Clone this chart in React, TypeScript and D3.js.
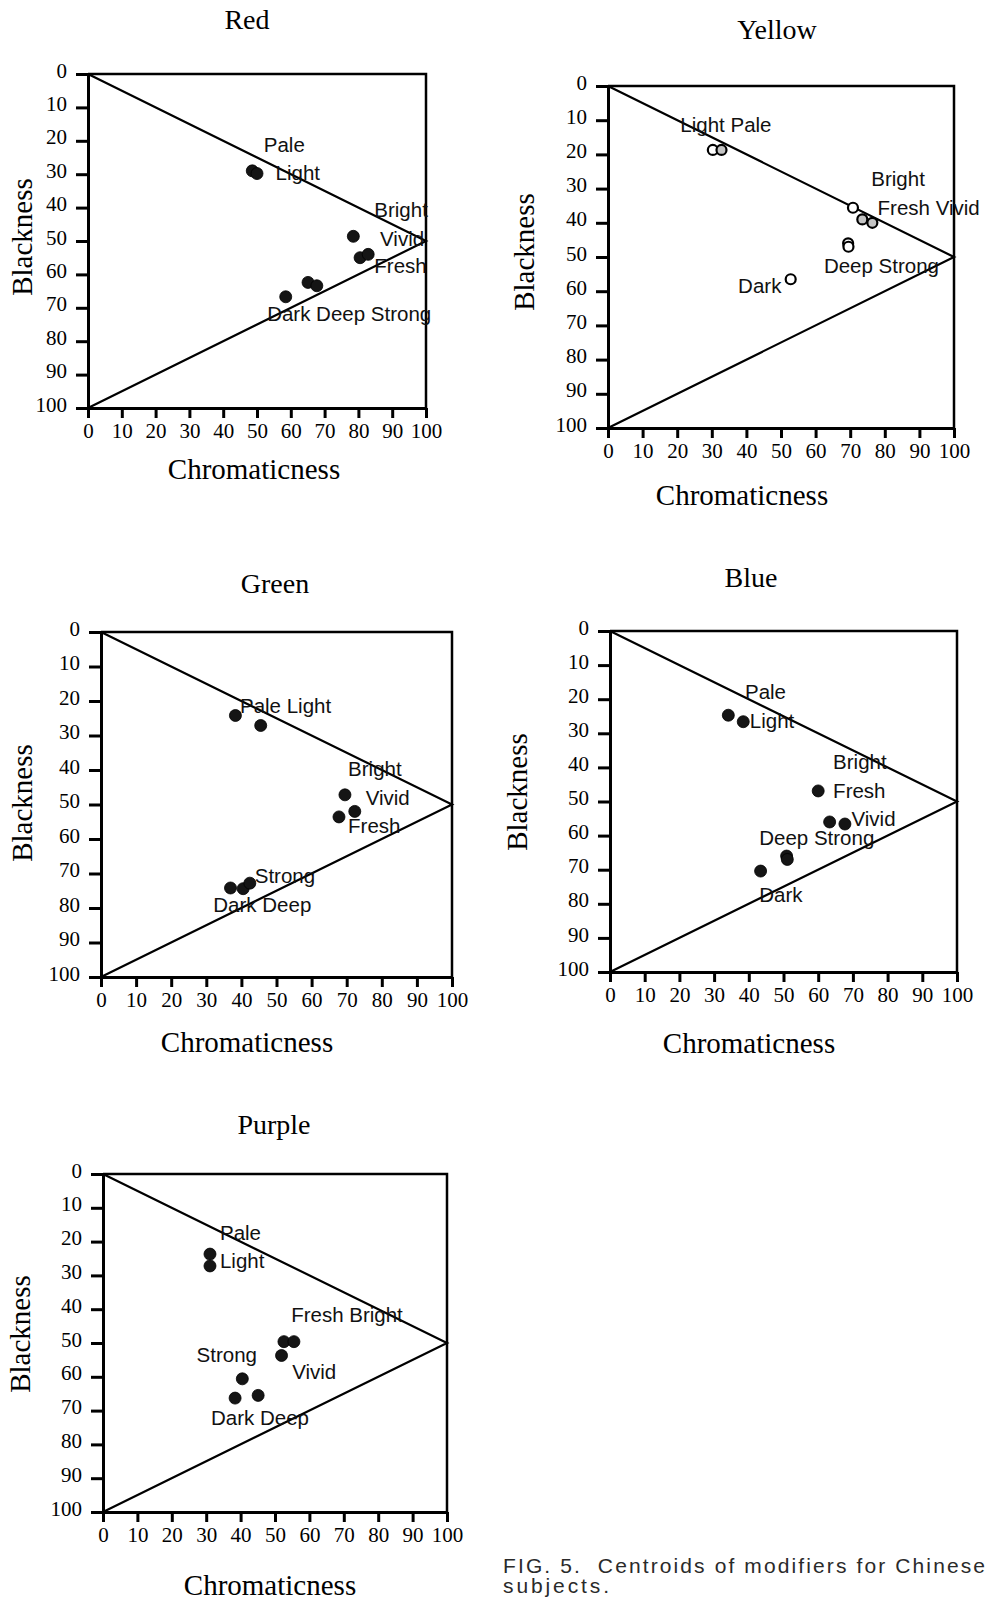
import React, { useEffect, useRef } from 'react';
import * as d3 from 'd3';

const SERIF = '"Liberation Serif", "Times New Roman", serif';
const SANS = '"Liberation Sans", Arial, sans-serif';

// shared axis ticks and the NCS-like triangle (chromaticness, blackness)
const tickValues = [0, 10, 20, 30, 40, 50, 60, 70, 80, 90, 100];
const triangleC = [0, 100, 0];
const triangleS = [0, 50, 100];

// Red
const redModifiers = ['Pale', 'Light', 'Bright', 'Vivid', 'Fresh', 'Dark', 'Deep', 'Strong'];
const redChroma = [48.6, 50.0, 78.5, 80.5, 82.9, 58.5, 65.1, 67.7];
const redBlack = [29.0, 29.8, 48.6, 55.0, 54.0, 66.7, 62.4, 63.4];
const redLabels = ['Pale', 'Light', 'Bright', 'Vivid', 'Fresh', 'Dark Deep Strong'];
const redLabelC = [52.0, 55.5, 84.7, 86.4, 84.7, 53.0];
const redLabelS = [23.3, 31.8, 42.9, 51.4, 59.6, 74.1];

// Yellow
const yellowModifiers = ['Light', 'Pale', 'Bright', 'Fresh', 'Vivid', 'Deep', 'Strong', 'Dark'];
const yellowChroma = [30.3, 32.8, 70.8, 73.5, 76.4, 69.4, 69.5, 52.8];
const yellowBlack = [18.7, 18.7, 35.6, 39.0, 40.0, 46.0, 47.0, 56.5];
const yellowShaded = ['Pale', 'Fresh', 'Vivid'];
const yellowLabels = ['Light Pale', 'Bright', 'Fresh Vivid', 'Deep Strong', 'Dark'];
const yellowLabelC = [20.9, 76.1, 77.9, 62.4, 37.6];
const yellowLabelS = [13.5, 29.2, 37.7, 54.7, 60.6];

// Green
const greenModifiers = ['Pale', 'Light', 'Bright', 'Vivid', 'Fresh', 'Dark', 'Deep', 'Strong'];
const greenChroma = [38.3, 45.5, 69.5, 72.3, 67.8, 36.9, 40.5, 42.4];
const greenBlack = [24.2, 27.1, 47.2, 52.0, 53.6, 74.2, 74.4, 72.8];
const greenLabels = ['Pale Light', 'Bright', 'Vivid', 'Fresh', 'Strong', 'Dark Deep'];
const greenLabelC = [39.6, 70.4, 75.4, 70.4, 43.8, 32.0];
const greenLabelS = [23.4, 41.6, 50.0, 58.2, 72.8, 81.2];

// Blue
const blueModifiers = ['Pale', 'Light', 'Bright', 'Fresh', 'Vivid', 'Deep', 'Strong', 'Dark'];
const blueChroma = [34.1, 38.4, 60.0, 63.3, 67.7, 50.9, 51.1, 43.4];
const blueBlack = [24.7, 26.6, 46.9, 56.0, 56.6, 66.0, 67.0, 70.4];
const blueLabels = ['Pale', 'Light', 'Bright', 'Fresh', 'Vivid', 'Deep Strong', 'Dark'];
const blueLabelC = [38.9, 40.3, 64.3, 64.3, 69.6, 43.0, 43.0];
const blueLabelS = [19.8, 28.3, 40.5, 48.9, 57.1, 62.8, 79.5];

// Purple
const purpleModifiers = ['Pale', 'Light', 'Fresh', 'Bright', 'Vivid', 'Strong', 'Dark', 'Deep'];
const purpleChroma = [31.1, 31.1, 52.6, 55.5, 51.9, 40.5, 38.4, 45.1];
const purpleBlack = [23.7, 27.2, 49.6, 49.6, 53.7, 60.6, 66.3, 65.5];
const purpleLabels = ['Pale', 'Light', 'Fresh Bright', 'Strong', 'Vivid', 'Dark Deep'];
const purpleLabelC = [34.0, 34.0, 54.7, 27.2, 55.0, 31.4];
const purpleLabelS = [19.5, 27.7, 43.9, 55.7, 60.6, 74.4];

const panels = [
  {
    name: 'Red', modifiers: redModifiers, chroma: redChroma, black: redBlack,
    labels: redLabels, labelC: redLabelC, labelS: redLabelS, hollow: false,
    box: { left: 88, top: 74, right: 426, bottom: 408, titleX: 247, titleY: 29, yTitleX: 22, yTitleY: 237, xTitleX: 254, xTitleY: 469 },
  },
  {
    name: 'Yellow', modifiers: yellowModifiers, chroma: yellowChroma, black: yellowBlack,
    labels: yellowLabels, labelC: yellowLabelC, labelS: yellowLabelS, hollow: true,
    box: { left: 608, top: 86, right: 954, bottom: 428, titleX: 777, titleY: 39, yTitleX: 524, yTitleY: 252, xTitleX: 742, xTitleY: 495 },
  },
  {
    name: 'Green', modifiers: greenModifiers, chroma: greenChroma, black: greenBlack,
    labels: greenLabels, labelC: greenLabelC, labelS: greenLabelS, hollow: false,
    box: { left: 101, top: 632, right: 452, bottom: 977, titleX: 275, titleY: 593, yTitleX: 22, yTitleY: 803, xTitleX: 247, xTitleY: 1042 },
  },
  {
    name: 'Blue', modifiers: blueModifiers, chroma: blueChroma, black: blueBlack,
    labels: blueLabels, labelC: blueLabelC, labelS: blueLabelS, hollow: false,
    box: { left: 610, top: 631, right: 957, bottom: 972, titleX: 751, titleY: 587, yTitleX: 517, yTitleY: 792, xTitleX: 749, xTitleY: 1043 },
  },
  {
    name: 'Purple', modifiers: purpleModifiers, chroma: purpleChroma, black: purpleBlack,
    labels: purpleLabels, labelC: purpleLabelC, labelS: purpleLabelS, hollow: false,
    box: { left: 103, top: 1174, right: 447, bottom: 1512, titleX: 274, titleY: 1134, yTitleX: 20, yTitleY: 1334, xTitleX: 270, xTitleY: 1585 },
  },
];

const Panel = ({ panel }: { panel: any }) => {
  const gRef = useRef<SVGGElement>(null);

  useEffect(() => {
    const g = d3.select(gRef.current);
    g.selectAll('*').remove();
    const b = panel.box;

    const x = d3.scaleLinear().domain([0, 100]).range([b.left, b.right]);
    const y = d3.scaleLinear().domain([0, 100]).range([b.top, b.bottom]);

    g.append('text')
      .attr('x', b.titleX).attr('y', b.titleY)
      .attr('text-anchor', 'middle')
      .attr('font-family', SERIF).attr('font-size', 28)
      .text(panel.name);

    // top and right sides of the frame
    g.append('path')
      .attr('d', `M${x(0)},${y(0)}H${x(100)}V${y(100)}`)
      .attr('fill', 'none').attr('stroke', '#000').attr('stroke-width', 2.5);

    // triangle
    const tri = d3.zip(triangleC, triangleS) as [number, number][];
    const line = d3.line<[number, number]>().x(d => x(d[0])).y(d => y(d[1]));
    g.append('path')
      .attr('d', line(tri))
      .attr('fill', 'none').attr('stroke', '#000').attr('stroke-width', 2.2);

    const yAxis = g.append('g')
      .attr('transform', `translate(${x(0)},0)`)
      .call(d3.axisLeft(y).tickValues(tickValues).tickSize(12).tickSizeOuter(0).tickPadding(9));
    yAxis.attr('font-family', SERIF).attr('font-size', 21);
    yAxis.select('.domain').attr('stroke-width', 3);
    yAxis.selectAll('.tick line').attr('stroke-width', 3);
    yAxis.selectAll('.tick text').attr('dy', '0.15em').attr('fill', '#000');

    const xAxis = g.append('g')
      .attr('transform', `translate(0,${y(100)})`)
      .call(d3.axisBottom(x).tickValues(tickValues).tickSize(10).tickSizeOuter(0).tickPadding(5));
    xAxis.attr('font-family', SERIF).attr('font-size', 21);
    xAxis.select('.domain').attr('stroke-width', 3);
    xAxis.selectAll('.tick line').attr('stroke-width', 3);
    xAxis.selectAll('.tick text').attr('fill', '#000');

    // axis titles
    g.append('text')
      .attr('transform', `translate(${b.yTitleX},${b.yTitleY}) rotate(-90)`)
      .attr('text-anchor', 'middle').attr('dy', '0.35em')
      .attr('font-family', SERIF).attr('font-size', 29)
      .text('Blackness');
    g.append('text')
      .attr('x', b.xTitleX).attr('y', b.xTitleY)
      .attr('text-anchor', 'middle').attr('dy', '0.35em')
      .attr('font-family', SERIF).attr('font-size', 29)
      .text('Chromaticness');

    // centroids
    const pts = panel.modifiers.map((m: string, i: number) => ({ m, c: panel.chroma[i], s: panel.black[i] }));
    g.selectAll('circle.pt')
      .data(pts)
      .enter()
      .append('circle')
      .attr('class', 'pt')
      .attr('cx', (d: any) => x(d.c))
      .attr('cy', (d: any) => y(d.s))
      .attr('r', panel.hollow ? 5 : 6)
      .attr('fill', (d: any) => panel.hollow ? (yellowShaded.includes(d.m) ? '#c4c4c4' : '#fff') : '#151515')
      .attr('stroke', '#000')
      .attr('stroke-width', panel.hollow ? 2.2 : 0.8);

    // modifier labels
    g.selectAll('text.lbl')
      .data(panel.labels)
      .enter()
      .append('text')
      .attr('class', 'lbl')
      .attr('x', (_: any, i: number) => x(panel.labelC[i]))
      .attr('y', (_: any, i: number) => y(panel.labelS[i]))
      .attr('font-family', SANS).attr('font-size', 20.5)
      .attr('fill', '#111')
      .text((d: any) => d);
  }, [panel]);

  return <g ref={gRef} />;
};

export default function App() {
  return (
    <svg
      width={988}
      height={1602}
      style={{ position: 'absolute', left: 0, top: 0, background: '#fff' }}
    >
      <rect x={0} y={0} width={988} height={1602} fill="#fff" />
      {panels.map(p => <Panel key={p.name} panel={p} />)}
      <text x={503} y={1573} fontFamily={SANS} fontSize={21} fill="#2a2a2a"
        textLength={482} lengthAdjust="spacing" style={{ whiteSpace: 'pre' }}>
        FIG. 5.  Centroids of modifiers for Chinese
      </text>
      <text x={503} y={1593} fontFamily={SANS} fontSize={21} fill="#2a2a2a"
        textLength={106} lengthAdjust="spacing">
        subjects.
      </text>
    </svg>
  );
}
